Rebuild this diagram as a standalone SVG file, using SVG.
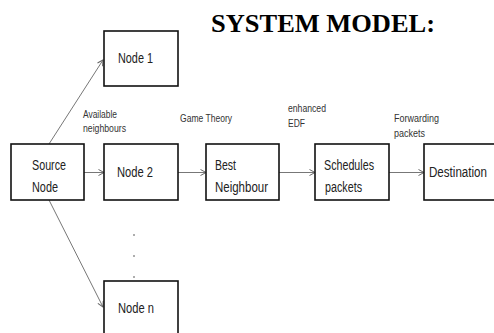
<svg xmlns="http://www.w3.org/2000/svg" width="494" height="333" viewBox="0 0 494 333">
<style>
.box{fill:#fff;stroke:#111;stroke-width:1.6}
.t{font-family:"Liberation Sans",Arial,sans-serif;font-size:14px;fill:#222}
.s{font-family:"Liberation Sans",Arial,sans-serif;font-size:10px;fill:#333}
.title{font-family:"Liberation Serif","Times New Roman",serif;font-weight:bold;font-size:26px;fill:#000}
.c{fill:none;stroke:#777;stroke-width:1}
</style>
<defs>
<marker id="ah" markerUnits="userSpaceOnUse" markerWidth="8" markerHeight="8" refX="6" refY="3.5" orient="auto">
<path d="M0.5,0.5 L6,3.5 L0.5,6.5" fill="none" stroke="#666" stroke-width="1"/>
</marker>
</defs>
<rect width="494" height="333" fill="#fff"/>
<text class="title" x="211" y="32" textLength="224" lengthAdjust="spacingAndGlyphs">SYSTEM MODEL:</text>
<g id="connectors">
<line class="c" x1="49" y1="144" x2="103" y2="60" marker-end="url(#ah)"/>
<line class="c" x1="49" y1="200" x2="103" y2="307" marker-end="url(#ah)"/>
<line class="c" x1="84" y1="172.5" x2="104" y2="172.5" marker-end="url(#ah)"/>
<line class="c" x1="178" y1="172.5" x2="206" y2="172.5" marker-end="url(#ah)"/>
<line class="c" x1="279" y1="172.5" x2="315" y2="172.5" marker-end="url(#ah)"/>
<line class="c" x1="389" y1="172.5" x2="424" y2="172.5" marker-end="url(#ah)"/>
<text class="s" x="83" y="118" textLength="34" lengthAdjust="spacingAndGlyphs">Available</text>
<text class="s" x="83" y="132" textLength="43" lengthAdjust="spacingAndGlyphs">neighbours</text>
<text class="s" x="180" y="122" textLength="52" lengthAdjust="spacingAndGlyphs">Game Theory</text>
<text class="s" x="288" y="112" textLength="38" lengthAdjust="spacingAndGlyphs">enhanced</text>
<text class="s" x="288" y="127" textLength="17" lengthAdjust="spacingAndGlyphs">EDF</text>
<text class="s" x="394" y="122" textLength="45" lengthAdjust="spacingAndGlyphs">Forwarding</text>
<text class="s" x="394" y="137" textLength="31" lengthAdjust="spacingAndGlyphs">packets</text>
<circle cx="134" cy="235" r="0.8" fill="#444"/>
<circle cx="134" cy="256" r="0.8" fill="#444"/>
<circle cx="134" cy="277" r="0.8" fill="#444"/>
</g>
<g id="node1">
<rect class="box" x="104" y="31" width="74" height="55"/>
<text class="t" x="118" y="63" textLength="35" lengthAdjust="spacingAndGlyphs">Node 1</text>
</g>
<g id="source">
<rect class="box" x="11" y="144" width="73" height="56"/>
<text class="t" x="32" y="170" textLength="34" lengthAdjust="spacingAndGlyphs">Source</text>
<text class="t" x="32" y="192" textLength="26" lengthAdjust="spacingAndGlyphs">Node</text>
</g>
<g id="node2">
<rect class="box" x="104" y="144" width="74" height="56"/>
<text class="t" x="117" y="177" textLength="36" lengthAdjust="spacingAndGlyphs">Node 2</text>
</g>
<g id="best">
<rect class="box" x="206" y="144" width="73" height="56"/>
<text class="t" x="215" y="170" textLength="21" lengthAdjust="spacingAndGlyphs">Best</text>
<text class="t" x="215" y="192" textLength="53" lengthAdjust="spacingAndGlyphs">Neighbour</text>
</g>
<g id="schedules">
<rect class="box" x="315" y="144" width="74" height="56"/>
<text class="t" x="324" y="170" textLength="50" lengthAdjust="spacingAndGlyphs">Schedules</text>
<text class="t" x="325" y="192" textLength="37" lengthAdjust="spacingAndGlyphs">packets</text>
</g>
<g id="destination">
<rect class="box" x="424" y="144" width="71.5" height="56"/>
<text class="t" x="429" y="177" textLength="58" lengthAdjust="spacingAndGlyphs">Destination</text>
</g>
<g id="noden">
<rect class="box" x="104" y="281" width="74" height="60"/>
<text class="t" x="118" y="313" textLength="36" lengthAdjust="spacingAndGlyphs">Node n</text>
</g>
</svg>
